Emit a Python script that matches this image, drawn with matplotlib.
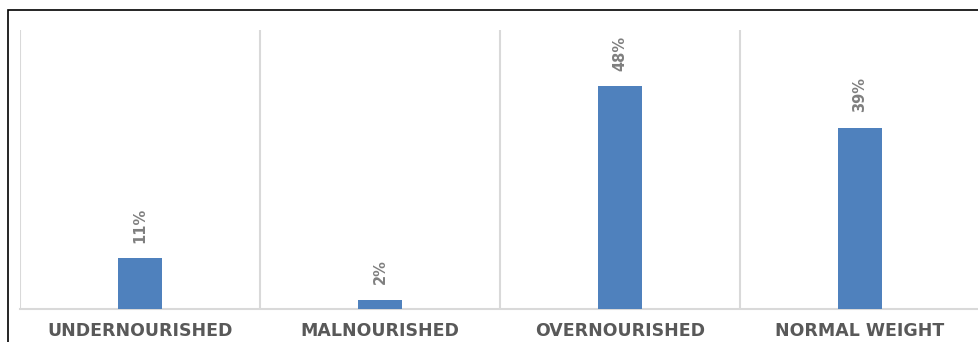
import matplotlib.pyplot as plt
from matplotlib.patches import Rectangle

categories = ['UNDERNOURISHED', 'MALNOURISHED', 'OVERNOURISHED', 'NORMAL WEIGHT']
shares = [11, 2, 48, 39]
value_labels = ['11%', '2%', '48%', '39%']

W, H = 979, 342
fig = plt.figure(figsize=(W / 100, H / 100), dpi=100)

# axes runs slightly past the right edge, like the cropped source
ax = fig.add_axes([20 / W, (H - 309) / H, 960 / W, 279 / H])

x = range(len(categories))
bars = ax.bar(x, shares, width=0.183, color='#4f81bd', zorder=3)

for b, lab in zip(bars, value_labels):
    ax.annotate(lab, (b.get_x() + b.get_width() / 2, b.get_height()),
                xytext=(0, 11), textcoords='offset points',
                rotation=90, ha='center', va='bottom',
                fontsize=10.5, fontweight='bold', color='#7f7f7f')

ax.set_xlim(-0.5, 3.5)
ax.set_ylim(0, 60)
ax.set_yticks([])
ax.set_xticks(list(x))
ax.set_xticklabels(categories, fontsize=12.5, fontweight='bold', color='#595959')
ax.set_xticks([-0.5, 0.5, 1.5, 2.5, 3.5], minor=True)
ax.tick_params(axis='x', which='both', length=0, pad=9.5)
ax.grid(axis='x', which='minor', color='#d9d9d9', linewidth=1.5, zorder=0)

for side in ['top', 'left', 'right']:
    ax.spines[side].set_visible(False)
ax.spines['bottom'].set_color('#d9d9d9')
ax.spines['bottom'].set_linewidth(1.5)

# outer frame, open to the right and bottom
fig.patches.append(Rectangle((8 / W, -0.1), 1.2, (H - 10) / H + 0.1,
                             transform=fig.transFigure, fill=False,
                             edgecolor='black', linewidth=1.2))

fig.savefig('out.png', dpi=100)
